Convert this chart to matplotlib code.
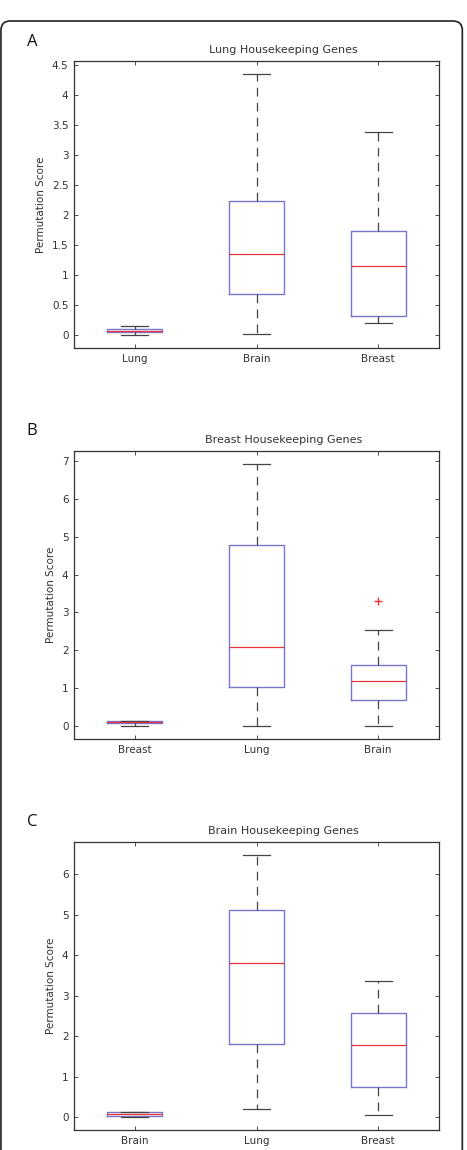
import matplotlib
matplotlib.use("Agg")
import matplotlib.pyplot as plt
from matplotlib.patches import FancyBboxPatch
from matplotlib.ticker import FormatStrFormatter

# panel A: lung housekeeping genes
a_labels = ["Lung", "Brain", "Breast"]
a_whislo = [0.0, 0.01, 0.20]
a_q1 = [0.04, 0.68, 0.32]
a_med = [0.07, 1.35, 1.15]
a_q3 = [0.10, 2.24, 1.73]
a_whishi = [0.14, 4.35, 3.38]
a_fliers = [[], [], []]

# panel B: breast housekeeping genes
b_labels = ["Breast", "Lung", "Brain"]
b_whislo = [0.0, 0.0, 0.0]
b_q1 = [0.07, 1.02, 0.70]
b_med = [0.10, 2.08, 1.18]
b_q3 = [0.13, 4.77, 1.62]
b_whishi = [0.14, 6.92, 2.53]
b_fliers = [[], [], [3.30]]

# panel C: brain housekeeping genes
c_labels = ["Brain", "Lung", "Breast"]
c_whislo = [0.02, 0.22, 0.07]
c_q1 = [0.04, 1.82, 0.76]
c_med = [0.08, 3.82, 1.78]
c_q3 = [0.13, 5.12, 2.58]
c_whishi = [0.14, 6.47, 3.38]
c_fliers = [[], [], []]

BOX_C = "#7676cc"
MED_C = "#e8333a"
EDGE_C = "#333333"


def draw_panel(ax, title, letter, labels, whislo, q1, med, q3, whishi, fliers, ylim, yticks, fmt):
    stats = []
    for i in range(len(labels)):
        stats.append(dict(label=labels[i], whislo=whislo[i], q1=q1[i], med=med[i],
                          q3=q3[i], whishi=whishi[i], fliers=fliers[i]))
    ax.bxp(stats, positions=[1, 2, 3], widths=0.45, showfliers=True,
           boxprops=dict(color=BOX_C, linewidth=1.0),
           medianprops=dict(color=MED_C, linewidth=0.9),
           whiskerprops=dict(color="#444444", linewidth=0.9, linestyle=(0, (7, 5))),
           capprops=dict(color="#444444", linewidth=0.9),
           capwidths=0.22,
           flierprops=dict(marker="+", markeredgecolor=MED_C, markersize=6, linestyle="none"))
    ax.set_xlim(0.5, 3.5)
    ax.set_ylim(*ylim)
    ax.set_yticks(yticks)
    ax.yaxis.set_major_formatter(FormatStrFormatter(fmt))
    ax.tick_params(direction="in", top=True, right=True, length=3, width=0.6,
                   labelsize=7.5, colors="#333333", pad=4)
    for s in ax.spines.values():
        s.set_linewidth(0.9)
        s.set_color(EDGE_C)
    ax.set_title(title, fontsize=8, color="#333333", pad=6, x=0.573)
    ax.set_ylabel("Permutation Score", fontsize=7.5, color="#333333")
    ax.text(-0.13, 1.04, letter, transform=ax.transAxes, fontsize=12,
            family="Open Sans", va="bottom", ha="left", color="#111111")


fig = plt.figure(figsize=(4.67, 11.5), dpi=100)

frame = FancyBboxPatch((0.002, -0.05), 0.988, 0.05 + 1 - 21 / 1150,
                       boxstyle="round,pad=0,rounding_size=0.02",
                       transform=fig.transFigure, fill=False,
                       edgecolor="#222222", linewidth=1.2, mutation_aspect=467 / 1150)
fig.patches.append(frame)

ax_a = fig.add_axes([74 / 467, 1 - 348 / 1150, 365 / 467, 287 / 1150])
draw_panel(ax_a, "Lung Housekeeping Genes", "A", a_labels, a_whislo, a_q1, a_med,
           a_q3, a_whishi, a_fliers, (-0.22, 4.57),
           [0, 0.5, 1, 1.5, 2, 2.5, 3, 3.5, 4, 4.5], "%g")

ax_b = fig.add_axes([74 / 467, 1 - 739 / 1150, 365 / 467, 288 / 1150])
draw_panel(ax_b, "Breast Housekeeping Genes", "B", b_labels, b_whislo, b_q1, b_med,
           b_q3, b_whishi, b_fliers, (-0.34, 7.26), [0, 1, 2, 3, 4, 5, 6, 7], "%g")

ax_c = fig.add_axes([74 / 467, 1 - 1130 / 1150, 365 / 467, 288 / 1150])
draw_panel(ax_c, "Brain Housekeeping Genes", "C", c_labels, c_whislo, c_q1, c_med,
           c_q3, c_whishi, c_fliers, (-0.31, 6.8), [0, 1, 2, 3, 4, 5, 6], "%g")

fig.savefig("out.png", dpi=100)
